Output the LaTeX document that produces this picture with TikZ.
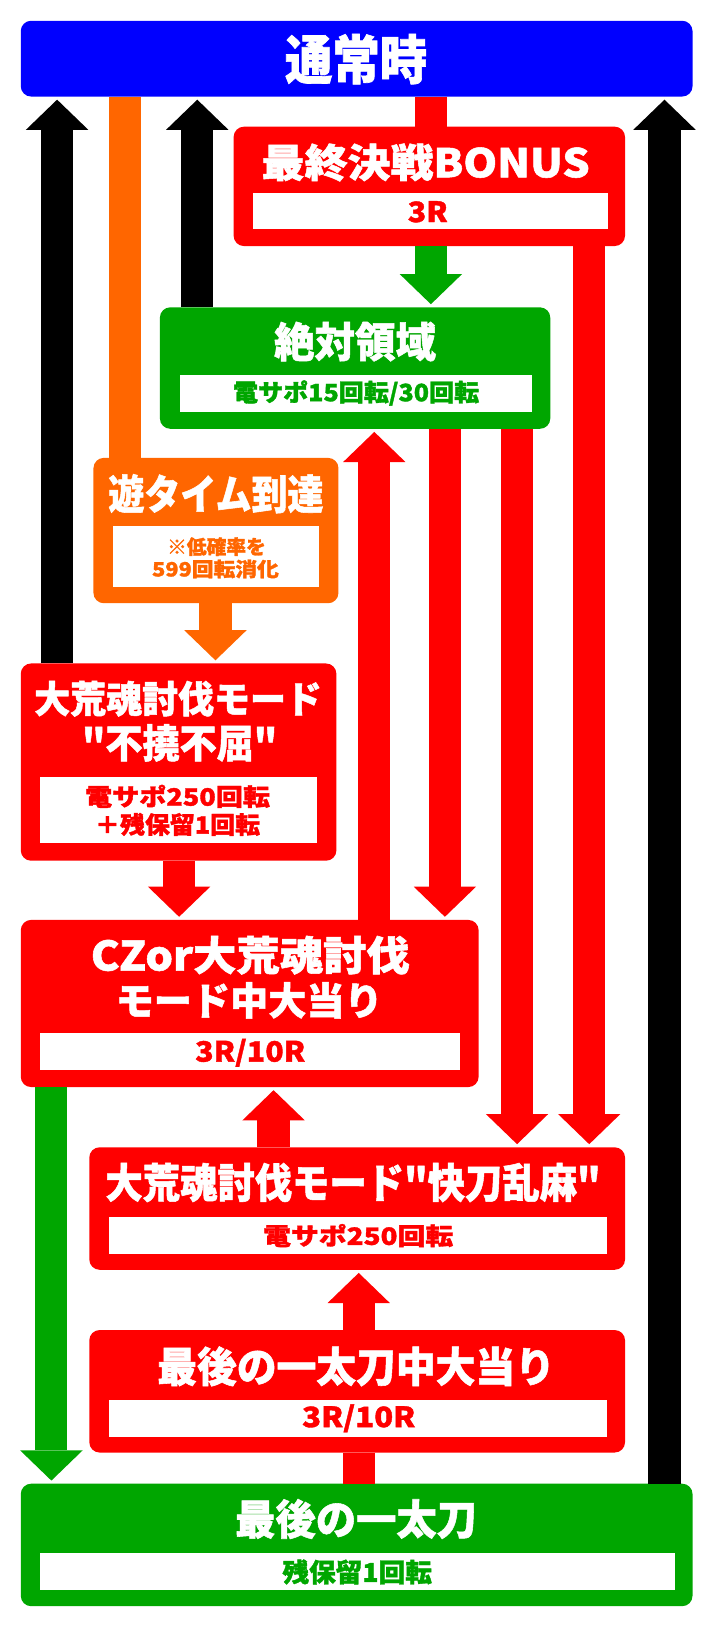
\documentclass[tikz,border=0pt]{standalone}
\usepackage{fontspec}
\newfontfamily\jp{Noto Sans CJK JP}[BoldFeatures={FakeBold=1.3}]
\usepackage{graphicx}
\usetikzlibrary{arrows.meta}
\definecolor{cblue}{RGB}{0,0,255}
\definecolor{cred}{RGB}{255,0,0}
\definecolor{cgreen}{RGB}{0,166,0}
\definecolor{corange}{RGB}{255,102,0}
\newcommand{\tx}[3]{\resizebox{#1pt}{\height}{\fontsize{#2pt}{#2pt}\selectfont\jp\bfseries #3}}
\begin{document}
\begin{tikzpicture}[x=1pt,y=-1pt,
  box/.style={rounded corners=10pt, inner sep=0pt, outer sep=0pt, draw=none},
  wbox/.style={fill=white, inner sep=0pt, outer sep=0pt, draw=none},
  ttl/.style={text=white, inner sep=0pt, outer sep=0pt},
  sub/.style={inner sep=0pt, outer sep=0pt},
  shaft/.style={line width=31pt},
  arr/.style={line width=31pt, -{Triangle[width=60pt,length=29pt,line width=0pt]}, shorten >=3pt},
]
\fill[white] (0,0) rectangle (686,1568);
\useasboundingbox (0,0) rectangle (686,1568);

% columns
\coordinate (xB1) at (55,0);
\coordinate (xB2) at (190,0);
\coordinate (xB3) at (640,0);
\coordinate (xO1) at (120.5,0);
\coordinate (xO2) at (207.5,0);
\coordinate (xR1) at (415,0);
\coordinate (xR2) at (567.5,0);
\coordinate (xR3) at (360.5,0);
\coordinate (xR4) at (428.5,0);
\coordinate (xR5) at (498,0);
\coordinate (xR6) at (172.5,0);
\coordinate (xG2) at (49.5,0);
\coordinate (xR7) at (263.5,0);
\coordinate (xR8) at (345.5,0);

% boxes
\node[box, fill=cblue, minimum width=647pt, minimum height=73pt] (tsujo) at (343.5,56.5) {};
\node[box, fill=cred, minimum width=377pt, minimum height=115pt] (bonus) at (413.5,179.5) {};
\node[wbox, minimum width=342pt, minimum height=35pt] (bonusW) at (415,203.5) {};
\node[box, fill=cgreen, minimum width=376pt, minimum height=117pt] (zettai) at (342,354.5) {};
\node[wbox, minimum width=339pt, minimum height=36pt] (zettaiW) at (342.5,379) {};
\node[box, fill=corange, minimum width=236pt, minimum height=140pt] (asobi) at (208,511) {};
\node[wbox, minimum width=198pt, minimum height=58pt] (asobiW) at (208,536) {};
\node[box, fill=cred, minimum width=304pt, minimum height=190pt] (fukutsu) at (172,734) {};
\node[wbox, minimum width=266pt, minimum height=64pt] (fukutsuW) at (172,780) {};
\node[box, fill=cred, minimum width=441pt, minimum height=161pt] (cz) at (240.5,966.5) {};
\node[wbox, minimum width=404pt, minimum height=36pt] (czW) at (241,1013) {};
\node[box, fill=cred, minimum width=516pt, minimum height=118pt] (kaitou) at (344,1164) {};
\node[wbox, minimum width=480pt, minimum height=36pt] (kaitouW) at (345,1190) {};
\node[box, fill=cred, minimum width=516pt, minimum height=118pt] (saigochu) at (344,1340) {};
\node[wbox, minimum width=480pt, minimum height=36pt] (saigochuW) at (345,1366) {};
\node[box, fill=cgreen, minimum width=647pt, minimum height=118pt] (saigo) at (343.5,1488) {};
\node[wbox, minimum width=611pt, minimum height=35pt] (saigoW) at (344.5,1513.5) {};

% texts
\node[ttl] (t1) at (343,57) {\tx{137}{51}{通常時}};
\node[ttl] (t2) at (410,156.5) {\tx{316}{38}{最終決戦BONUS}};
\node[sub, text=cred] (s2) at (412,204) {\tx{38.5}{27}{3R}};
\node[ttl] (t3) at (342,329) {\tx{156}{40}{絶対領域}};
\node[sub, text=cgreen] (s3) at (343,378.5) {\tx{237}{23}{電サポ15回転/30回転}};
\node[ttl] (t4) at (208,475.5) {\tx{207}{39.5}{遊タイム到達}};
\node[sub, text=corange] (s4a) at (208.5,526.5) {\tx{95}{19}{※低確率を}};
\node[sub, text=corange] (s4b) at (207.5,548) {\tx{122}{19}{599回転消化}};
\node[ttl] (t5a) at (171.5,673) {\tx{277}{36}{大荒魂討伐モード}};
\node[ttl] (t5b) at (173,715.5) {\tx{188}{38}{"不撓不屈"}};
\node[sub, text=cred] (s5a) at (171,767) {\tx{178}{23}{電サポ250回転}};
\node[sub, text=cred] (s5b) at (171,794) {\tx{159}{23}{＋残保留1回転}};
\node[ttl] (t6a) at (241,920) {\tx{307}{39}{CZor大荒魂討伐}};
\node[ttl] (t6b) at (240,963.5) {\tx{257}{37}{モード中大当り}};
\node[sub, text=cred] (s6) at (241,1014) {\tx{106}{27}{3R/10R}};
\node[ttl] (t7) at (340,1139) {\tx{477}{39.5}{大荒魂討伐モード"快刀乱麻"}};
\node[sub, text=cred] (s7) at (345,1190) {\tx{183}{23}{電サポ250回転}};
\node[ttl] (t8) at (343,1316) {\tx{383}{40}{最後の一太刀中大当り}};
\node[sub, text=cred] (s8) at (345.5,1366) {\tx{109}{27}{3R/10R}};
\node[ttl] (t9) at (343,1463) {\tx{233}{40}{最後の一太刀}};
\node[sub, text=cgreen] (s9) at (344,1514) {\tx{144}{25}{残保留1回転}};

% connectors
\draw[arr, black] (fukutsu.north -| xB1) -- (tsujo.south -| xB1);
\draw[arr, black] (zettai.north -| xB2) -- (tsujo.south -| xB2);
\draw[arr, black] (saigo.north -| xB3) -- (tsujo.south -| xB3);
\draw[shaft, corange] (tsujo.south -| xO1) -- (asobi.north -| xO1);
\draw[arr, corange] (asobi.south -| xO2) -- (fukutsu.north -| xO2);
\draw[shaft, cred] (tsujo.south -| xR1) -- (bonus.north -| xR1);
\draw[arr, cgreen] (bonus.south -| xR1) -- (zettai.north -| xR1);
\draw[arr, cred] (bonus.south -| xR2) -- (kaitou.north -| xR2);
\draw[arr, cred] (cz.north -| xR3) -- (zettai.south -| xR3);
\draw[arr, cred] (zettai.south -| xR4) -- (cz.north -| xR4);
\draw[arr, cred] (zettai.south -| xR5) -- (kaitou.north -| xR5);
\draw[arr, cred] (fukutsu.south -| xR6) -- (cz.north -| xR6);
\draw[arr, cgreen] (cz.south -| xG2) -- (saigo.north -| xG2);
\draw[arr, cred] (kaitou.north -| xR7) -- (cz.south -| xR7);
\draw[arr, cred] (saigochu.north -| xR8) -- (kaitou.south -| xR8);
\draw[shaft, cred] (saigochu.south -| xR8) -- (saigo.north -| xR8);
\end{tikzpicture}
\end{document}
